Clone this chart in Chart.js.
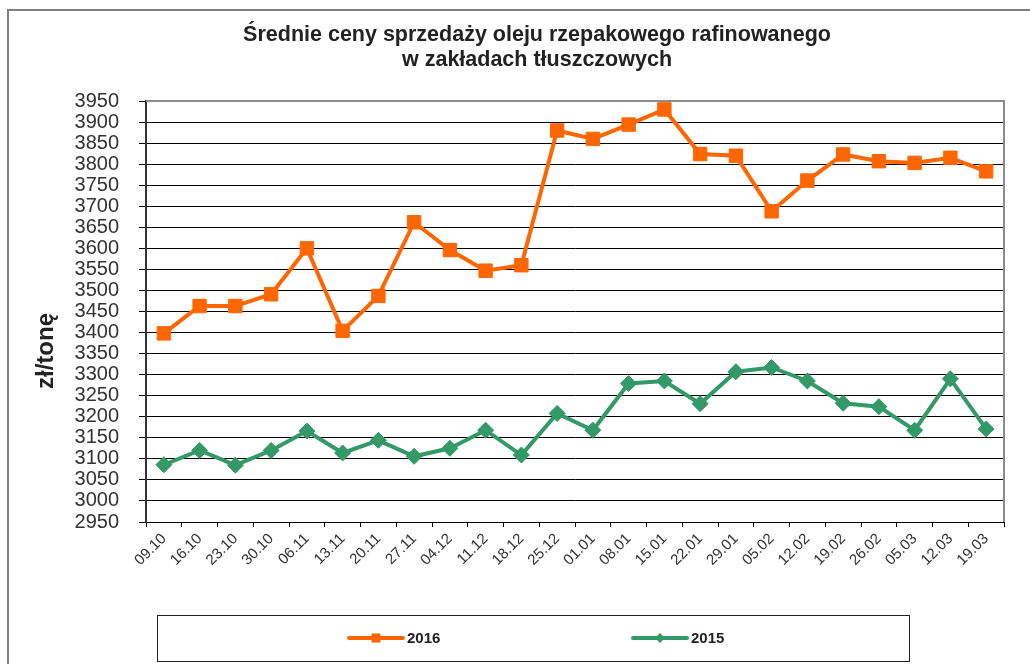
<!DOCTYPE html>
<html>
<head>
<meta charset="utf-8">
<script src="https://cdn.jsdelivr.net/npm/chart.js@4.4.1/dist/chart.umd.min.js"></script>
<style>
  html, body { margin: 0; padding: 0; background: #fff; }
  #wrap { position: relative; width: 1030px; height: 664px; overflow: hidden; }
  canvas { display: block; }
</style>
</head>
<body>
<div id="wrap"><canvas id="c" width="1030" height="664"></canvas></div>
<script>
const categories = ['09.10','16.10','23.10','30.10','06.11','13.11','20.11','27.11','04.12','11.12','18.12','25.12','01.01','08.01','15.01','22.01','29.01','05.02','12.02','19.02','26.02','05.03','12.03','19.03'];
const series2016 = [3398,3463,3463,3491,3600,3404,3487,3662,3596,3547,3560,3880,3860,3894,3930,3824,3820,3688,3761,3823,3807,3803,3815,3783];
const series2015 = [3086,3120,3085,3120,3166,3114,3144,3106,3125,3168,3109,3208,3168,3279,3285,3231,3307,3317,3285,3232,3224,3168,3290,3171];
const seriesNames = ['2016','2015'];
const titleLines = ['Średnie ceny sprzedaży oleju rzepakowego rafinowanego','w zakładach tłuszczowych'];
const yAxisTitle = 'zł/tonę';
const yMin = 2950, yMax = 3950, yStep = 50;

const ORANGE = '#FF6600';
const GREEN = '#339966';
const FONT = "'Liberation Sans', Arial, sans-serif";

const decorPlugin = {
  id: 'decor',
  beforeDraw(chart) {
    const ctx = chart.ctx;
    ctx.save();
    ctx.fillStyle = '#fff';
    ctx.fillRect(0, 0, chart.width, chart.height);
    ctx.strokeStyle = '#808080';
    ctx.lineWidth = 2;
    ctx.strokeRect(8, 10, 1100, 800);
    ctx.restore();
  },
  afterDraw(chart) {
    const ctx = chart.ctx;
    const a = chart.chartArea;
    ctx.save();
    // chart title
    ctx.fillStyle = '#222';
    ctx.font = 'bold 21.5px ' + FONT;
    ctx.textAlign = 'center';
    ctx.textBaseline = 'middle';
    titleLines.forEach((t, i) => ctx.fillText(t, 537, 35 + i * 25));
    // plot area top/right border
    ctx.strokeStyle = '#8c8c8c';
    ctx.lineWidth = 2;
    ctx.beginPath();
    ctx.moveTo(a.left, a.top);
    ctx.lineTo(a.right, a.top);
    ctx.lineTo(a.right, a.bottom);
    ctx.stroke();
    // y axis title
    ctx.translate(46, 351);
    ctx.rotate(-Math.PI / 2);
    ctx.fillStyle = '#222';
    ctx.font = 'bold 24px ' + FONT;
    ctx.textAlign = 'center';
    ctx.textBaseline = 'middle';
    ctx.fillText(yAxisTitle, 0, 0);
    ctx.restore();

    // legend box
    ctx.save();
    ctx.strokeStyle = '#222';
    ctx.lineWidth = 1;
    ctx.strokeRect(157.5, 615.5, 752, 46);
    const items = [
      {x: 349, color: ORANGE, style: 'rect', label: seriesNames[0]},
      {x: 633, color: GREEN, style: 'rectRot', label: seriesNames[1]}
    ];
    items.forEach(it => {
      const cy = 638;
      ctx.strokeStyle = it.color;
      ctx.lineWidth = 4;
      ctx.lineCap = 'round';
      ctx.beginPath();
      ctx.moveTo(it.x, cy);
      ctx.lineTo(it.x + 54, cy);
      ctx.stroke();
      ctx.fillStyle = it.color;
      const mx = it.x + 27;
      if (it.style === 'rect') {
        ctx.fillRect(mx - 4.5, cy - 4.5, 9, 9);
      } else {
        ctx.beginPath();
        ctx.moveTo(mx, cy - 5); ctx.lineTo(mx + 5, cy); ctx.lineTo(mx, cy + 5); ctx.lineTo(mx - 5, cy);
        ctx.closePath(); ctx.fill();
      }
      ctx.fillStyle = '#222';
      ctx.font = 'bold 15px ' + FONT;
      ctx.textAlign = 'left';
      ctx.textBaseline = 'middle';
      ctx.fillText(it.label, it.x + 58, cy + 1);
    });
    ctx.restore();
  }
};

new Chart(document.getElementById('c'), {
  type: 'line',
  data: {
    labels: categories,
    datasets: [
      {
        label: seriesNames[0],
        data: series2016,
        borderColor: ORANGE,
        backgroundColor: ORANGE,
        borderWidth: 4,
        pointStyle: 'rect',
        pointRadius: 9.5,
        pointBorderWidth: 1,
        tension: 0
      },
      {
        label: seriesNames[1],
        data: series2015,
        borderColor: GREEN,
        backgroundColor: GREEN,
        borderWidth: 4,
        pointStyle: 'rectRot',
        pointRadius: 8,
        pointBorderWidth: 1,
        tension: 0
      }
    ]
  },
  options: {
    responsive: false,
    animation: false,
    devicePixelRatio: 1,
    layout: { padding: { left: 0, right: 26, top: 101, bottom: 0 } },
    plugins: {
      legend: { display: false },
      tooltip: { enabled: false },
      title: { display: false }
    },
    scales: {
      x: {
        offset: true,
        grid: {
          offset: true,
          drawOnChartArea: false,
          drawTicks: true,
          tickLength: 5,
          tickColor: '#000',
          lineWidth: 1
        },
        border: { display: true, color: '#000', width: 1 },
        ticks: {
          autoSkip: false,
          minRotation: 45,
          maxRotation: 45,
          padding: 3,
          color: '#333',
          font: { family: FONT, size: 15 }
        },
        afterFit(scale) { scale.height = 142; }
      },
      y: {
        min: yMin,
        max: yMax,
        ticks: {
          stepSize: yStep,
          autoSkip: false,
          padding: 20,
          color: '#333',
          font: { family: FONT, size: 20 },
          callback: v => String(v)
        },
        grid: {
          color: ctx => (ctx.tick && ctx.tick.value === yMax) ? '#8c8c8c' : '#000',
          lineWidth: 1,
          tickLength: 7,
          tickColor: '#000'
        },
        border: { display: true, color: '#333', width: 2 },
        afterFit(scale) { scale.width = 146; }
      }
    }
  },
  plugins: [decorPlugin]
});
</script>
</body>
</html>
